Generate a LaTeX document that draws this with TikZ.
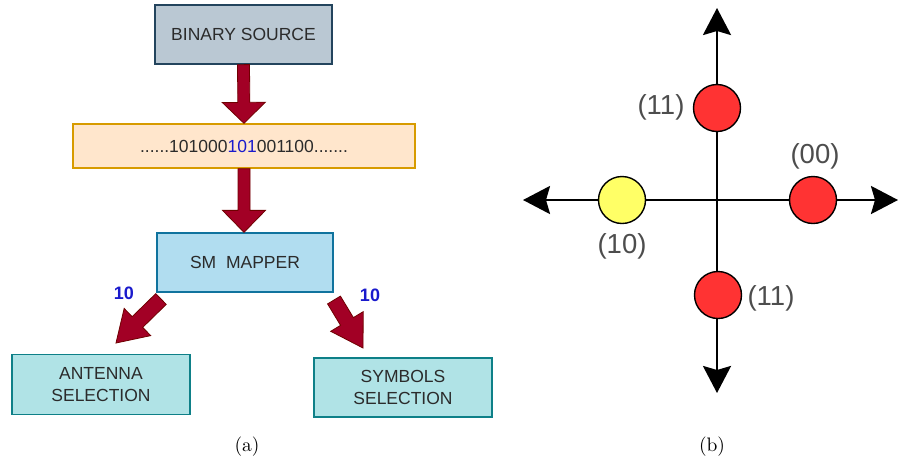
\documentclass[tikz,border=0pt]{standalone}
\usepackage{fontspec}
\newfontfamily\arial{Liberation Sans}
\usetikzlibrary{calc,arrows.meta}

\definecolor{txt}{HTML}{2B2B2B}
\definecolor{bitblue}{HTML}{1A1ACC}
\definecolor{srcfill}{HTML}{BAC8D3}\definecolor{srcline}{HTML}{23445D}
\definecolor{bitfill}{HTML}{FFE6CC}\definecolor{bitline}{HTML}{D79B00}
\definecolor{mapfill}{HTML}{B1DDF0}\definecolor{mapline}{HTML}{10739E}
\definecolor{selfill}{HTML}{B0E3E6}\definecolor{selline}{HTML}{0E8088}
\definecolor{arrfill}{HTML}{A20025}\definecolor{arrline}{HTML}{6F0000}
\definecolor{ptred}{HTML}{FF3333}\definecolor{ptyellow}{HTML}{FFFF66}
\definecolor{ptlabel}{HTML}{4D4D4D}

% block arrow from #1 to tip #2; #3 name, #4 half shaft width, #5 half head width, #6 head length
\newcommand\blockarrow[6]{%
  \coordinate (#3-b) at ($(#2)!#6!(#1)$);
  \filldraw[fatarrow]
    ($(#1)!#4!90:(#2)$) -- ($(#3-b)!#4!90:(#2)$) -- ($(#3-b)!#5!90:(#2)$) -- (#2)
    -- ($(#3-b)!#5!-90:(#2)$) -- ($(#3-b)!#4!-90:(#2)$) -- ($(#1)!#4!-90:(#2)$) -- cycle;
}

\begin{document}
\begin{tikzpicture}[x=1pt,y=-1pt,
  box/.style={draw, line width=1.3pt, inner sep=0pt, align=center,
    font=\arial\fontsize{17.5}{22}\selectfont, text=txt},
  fatarrow/.style={fill=arrfill, draw=arrline, line width=0.8pt, line join=miter},
  bitlabel/.style={font=\arial\bfseries\fontsize{18}{20}\selectfont, text=bitblue},
  axis/.style={line width=2.6pt, {Stealth[width=28pt,length=27pt,inset=4pt]}-{Stealth[width=28pt,length=27pt,inset=4pt]}},
  pt/.style={circle, draw=black, line width=1.4pt, minimum size=47pt, inner sep=0pt},
  ptlab/.style={font=\arial\fontsize{27.5}{30}\selectfont, text=ptlabel, inner sep=0pt},
  caption/.style={font=\normalsize, scale=1.95, transform shape, inner sep=0pt}]

\useasboundingbox (0,0) rectangle (899,464);

% ---- (a) SM transmitter chain ----
\node[box, fill=srcfill, draw=srcline, minimum width=177pt, minimum height=59pt] (src) at (243.5,34.5) {BINARY SOURCE};
\node[box, fill=bitfill, draw=bitline, minimum width=342pt, minimum height=44pt] (bits) at (244,146)
  {......101000{\color{bitblue}101}001100.......};
\node[box, fill=mapfill, draw=mapline, minimum width=176pt, minimum height=59pt] (map) at (245,262.5) {SM\ \ MAPPER};
\node[box, fill=selfill, draw=selline, minimum width=178pt, minimum height=60pt] (ant) at (101,384.5) {ANTENNA\\SELECTION};
\node[box, fill=selfill, draw=selline, minimum width=178pt, minimum height=59pt] (sym) at (403,387.5) {SYMBOLS\\SELECTION};

\coordinate (a2tip) at (bits.south |- map.north);
\coordinate (lstart) at (161,299);
\coordinate (ltip) at (116,343);
\coordinate (rstart) at (334,300);
\coordinate (rtip) at (363,348);

\blockarrow{src.south}{bits.north}{a1}{6pt}{21.5pt}{21pt}
\blockarrow{bits.south}{a2tip}{a2}{6pt}{21.5pt}{22pt}
\blockarrow{lstart}{ltip}{a3}{7.5pt}{19pt}{30pt}
\blockarrow{rstart}{rtip}{a4}{7.5pt}{19pt}{31pt}

\node[bitlabel] (lbit) at (124,293) {10};
\node[bitlabel] (rbit) at (370,295.5) {10};

\node[caption] (capa) at (247,447) {(a)};

% ---- (b) spatial constellation ----
\coordinate (o) at (717,200);
\coordinate (xl) at (523,200);
\coordinate (xr) at (898,200);
\coordinate (yt) at (717,8);
\coordinate (yb) at (717,393);
\draw[axis] (xl) -- (xr);
\draw[axis] (yt) -- (yb);

\node[pt, fill=ptred] (top) at (717,108) {};
\node[pt, fill=ptred] (right) at (813,200) {};
\node[pt, fill=ptyellow] (left) at (622,200) {};
\node[pt, fill=ptred] (bottom) at (718,295) {};

\node[ptlab] (ltop) at (661,107) {(11)};
\node[ptlab] (lright) at (815,156) {(00)};
\node[ptlab] (lleft) at (622,246) {(10)};
\node[ptlab] (lbottom) at (771,298) {(11)};

\node[caption] (capb) at (712,447) {(b)};
\end{tikzpicture}
\end{document}
